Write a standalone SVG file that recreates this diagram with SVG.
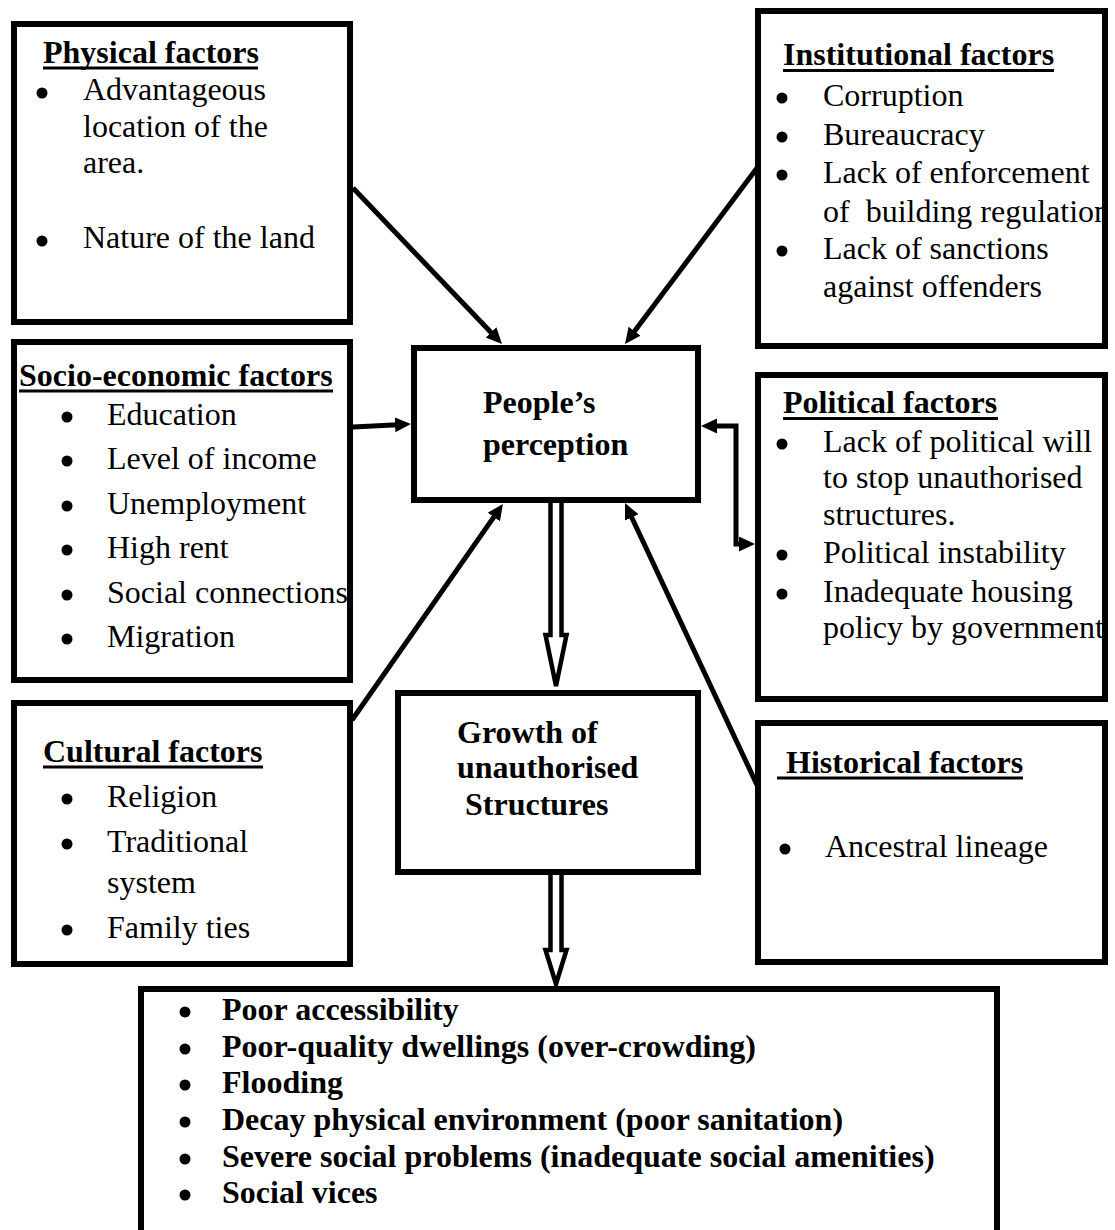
<svg xmlns="http://www.w3.org/2000/svg" width="1115" height="1230" viewBox="0 0 1115 1230">
<style>
.box{fill:#fff;stroke:#000;stroke-width:6}
.t{font-family:"Liberation Serif","Times New Roman",serif;font-size:32px;fill:#000}
.b{font-weight:bold}
.ul{fill:#000}
.dot{fill:#000}
.con{fill:none;stroke:#000;stroke-width:5}
.dbl{fill:#fff;stroke:#000;stroke-width:4.5;stroke-linejoin:miter}
</style>
<defs>
<marker id="ah" markerUnits="userSpaceOnUse" markerWidth="17" markerHeight="16" refX="3" refY="7.5" orient="auto-start-reverse">
<path d="M0,0 L16,7.5 L0,15 z" fill="#000"/>
</marker>
<clipPath id="clipR"><rect x="0" y="0" width="1106" height="1230"/></clipPath>
</defs>
<rect width="1115" height="1230" fill="#fff"/>

<g id="connectors">
<line class="con" x1="353" y1="188" x2="493" y2="334.6" marker-end="url(#ah)"/>
<line class="con" x1="757" y1="168" x2="632.8" y2="333.6" marker-end="url(#ah)"/>
<line class="con" x1="353" y1="427" x2="398" y2="424.7" marker-end="url(#ah)"/>
<line class="con" x1="352" y1="720" x2="495.5" y2="514.6" marker-end="url(#ah)"/>
<line class="con" x1="757" y1="785" x2="630.5" y2="514.8" marker-end="url(#ah)"/>
<path class="con" d="M714,426 H736 V544 H742" marker-start="url(#ah)" marker-end="url(#ah)"/>
<path class="dbl" d="M550.5,500 V635 H545.5 L556,686 L566.5,635 H561.5 V500"/>
<path class="dbl" d="M550.5,872 V950 H545.5 L556,984 L566.5,950 H561.5 V872"/>
</g>

<g id="physical">
<rect class="box" x="14" y="24" width="336" height="298"/>
<text class="t b" x="43" y="63">Physical factors</text>
<rect class="ul" x="43" y="66.5" width="215" height="3"/>
<circle class="dot" cx="42" cy="93" r="5.5"/>
<text class="t" x="83" y="100">Advantageous</text>
<text class="t" x="83" y="137">location of the</text>
<text class="t" x="83" y="173">area.</text>
<circle class="dot" cx="42" cy="241" r="5.5"/>
<text class="t" x="83" y="248">Nature of the land</text>
</g>

<g id="institutional">
<rect class="box" x="758" y="11" width="347" height="335"/>
<g clip-path="url(#clipR)">
<text class="t b" x="783" y="65">Institutional factors</text>
<rect class="ul" x="783" y="69" width="271" height="3"/>
<circle class="dot" cx="782" cy="98" r="5.5"/>
<text class="t" x="823" y="106">Corruption</text>
<circle class="dot" cx="782" cy="137" r="5.5"/>
<text class="t" x="823" y="145">Bureaucracy</text>
<circle class="dot" cx="782" cy="175" r="5.5"/>
<text class="t" x="823" y="183">Lack of enforcement</text>
<text class="t" x="823" y="222" xml:space="preserve">of  building regulation</text>
<circle class="dot" cx="782" cy="251" r="5.5"/>
<text class="t" x="823" y="259">Lack of sanctions</text>
<text class="t" x="823" y="297">against offenders</text>
</g>
<rect x="758" y="11" width="347" height="335" fill="none" stroke="#000" stroke-width="6"/>
</g>

<g id="socio">
<rect class="box" x="14" y="342" width="336" height="338"/>
<text class="t b" x="19" y="386">Socio-economic factors</text>
<rect class="ul" x="19" y="389.5" width="314" height="3"/>
<circle class="dot" cx="67" cy="417" r="5.5"/>
<text class="t" x="107" y="425">Education</text>
<circle class="dot" cx="67" cy="461" r="5.5"/>
<text class="t" x="107" y="469">Level of income</text>
<circle class="dot" cx="67" cy="506" r="5.5"/>
<text class="t" x="107" y="514">Unemployment</text>
<circle class="dot" cx="67" cy="550" r="5.5"/>
<text class="t" x="107" y="558">High rent</text>
<circle class="dot" cx="67" cy="595" r="5.5"/>
<text class="t" x="107" y="603">Social connections</text>
<circle class="dot" cx="67" cy="639" r="5.5"/>
<text class="t" x="107" y="647">Migration</text>
</g>

<g id="people">
<rect class="box" x="414" y="348" width="284" height="152"/>
<text class="t b" x="483" y="413">People’s</text>
<text class="t b" x="483" y="455">perception</text>
</g>

<g id="political">
<rect class="box" x="758" y="375" width="347" height="324"/>
<g clip-path="url(#clipR)">
<text class="t b" x="783" y="413">Political factors</text>
<rect class="ul" x="783" y="417" width="215" height="3"/>
<circle class="dot" cx="782" cy="444" r="5.5"/>
<text class="t" x="823" y="452">Lack of political will</text>
<text class="t" x="823" y="488">to stop unauthorised</text>
<text class="t" x="823" y="525">structures.</text>
<circle class="dot" cx="782" cy="555" r="5.5"/>
<text class="t" x="823" y="563">Political instability</text>
<circle class="dot" cx="782" cy="594" r="5.5"/>
<text class="t" x="823" y="602">Inadequate housing</text>
<text class="t" x="823" y="638">policy by government</text>
</g>
<rect x="758" y="375" width="347" height="324" fill="none" stroke="#000" stroke-width="6"/>
</g>

<g id="cultural">
<rect class="box" x="14" y="703" width="336" height="261"/>
<text class="t b" x="43" y="762">Cultural factors</text>
<rect class="ul" x="43" y="765.5" width="220" height="3"/>
<circle class="dot" cx="67" cy="799" r="5.5"/>
<text class="t" x="107" y="807">Religion</text>
<circle class="dot" cx="67" cy="844" r="5.5"/>
<text class="t" x="107" y="852">Traditional</text>
<text class="t" x="107" y="893">system</text>
<circle class="dot" cx="67" cy="930" r="5.5"/>
<text class="t" x="107" y="938">Family ties</text>
</g>

<g id="growth">
<rect class="box" x="398" y="693" width="300" height="179"/>
<text class="t b" x="457" y="743">Growth of</text>
<text class="t b" x="457" y="778">unauthorised</text>
<text class="t b" x="465" y="815">Structures</text>
</g>

<g id="historical">
<rect class="box" x="758" y="723" width="347" height="239"/>
<text class="t b" x="786" y="773">Historical factors</text>
<rect class="ul" x="777" y="776.5" width="246" height="3"/>
<circle class="dot" cx="785" cy="849" r="5.5"/>
<text class="t" x="825" y="857">Ancestral lineage</text>
</g>

<g id="effects">
<path d="M141,1240 V989 H997 V1240" fill="#fff" stroke="#000" stroke-width="6"/>
<circle class="dot" cx="185" cy="1012" r="5.5"/>
<text class="t b" x="222" y="1020">Poor accessibility</text>
<circle class="dot" cx="185" cy="1049" r="5.5"/>
<text class="t b" x="222" y="1057">Poor-quality dwellings (over-crowding)</text>
<circle class="dot" cx="185" cy="1085" r="5.5"/>
<text class="t b" x="222" y="1093">Flooding</text>
<circle class="dot" cx="185" cy="1122" r="5.5"/>
<text class="t b" x="222" y="1130">Decay physical environment (poor sanitation)</text>
<circle class="dot" cx="185" cy="1159" r="5.5"/>
<text class="t b" x="222" y="1167">Severe social problems (inadequate social amenities)</text>
<circle class="dot" cx="185" cy="1195" r="5.5"/>
<text class="t b" x="222" y="1203">Social vices</text>
</g>
</svg>
